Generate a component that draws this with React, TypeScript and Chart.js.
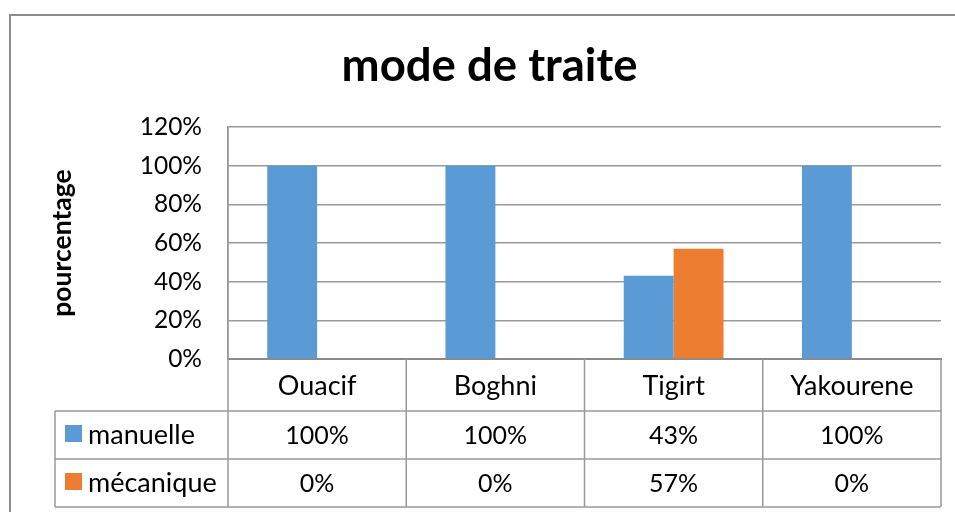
import React, { useEffect, useRef } from "react";
import { Chart, registerables } from "chart.js";

Chart.register(...registerables);

const TITLE = "mode de traite";
const Y_TITLE = "pourcentage";
const categories = ["Ouacif", "Boghni", "Tigirt", "Yakourene"];
const seriesNames = ["manuelle", "mécanique"];
const manuelle = [100, 100, 43, 100];
const mecanique = [0, 0, 57, 0];
const yMin = 0;
const yMax = 120;
const yStep = 20;
const seriesColors = ["#5B9BD5", "#ED7D31"];

const FONT = "Lato, 'Open Sans', sans-serif";
const LINE = "#9a9a9a";
const AXIS = "#8a8a8a";

const extrasPlugin = {
  id: "excelExtras",
  afterDraw(chart: any) {
    const { ctx, chartArea } = chart;
    const left = chartArea.left;
    const right = chartArea.right;
    const axisY = chartArea.bottom;
    const n = categories.length;
    const colW = (right - left) / n;
    const headerBottom = axisY + 52;
    const rowH = 48;
    const tableBottom = headerBottom + rowH * 2;
    const tableLeft = 55;
    const values = [manuelle, mecanique];

    ctx.save();
    // outer frame
    ctx.strokeStyle = "#8c8c8c";
    ctx.lineWidth = 2;
    ctx.strokeRect(10, 15, 959, 520);

    // table lines
    ctx.strokeStyle = LINE;
    ctx.lineWidth = 1.5;
    ctx.beginPath();
    for (let r = 0; r < 3; r++) {
      const y = headerBottom + r * rowH;
      ctx.moveTo(tableLeft, y);
      ctx.lineTo(right, y);
    }
    ctx.moveTo(tableLeft, headerBottom);
    ctx.lineTo(tableLeft, tableBottom);
    for (let i = 0; i <= n; i++) {
      const x = left + i * colW;
      ctx.moveTo(x, i === 0 ? chartArea.top : axisY);
      ctx.lineTo(x, tableBottom);
    }
    ctx.stroke();

    // table values and legend keys
    ctx.fillStyle = "#000";
    ctx.textBaseline = "alphabetic";
    for (let s = 0; s < values.length; s++) {
      const rowTop = headerBottom + s * rowH;
      const baseY = rowTop + 33;
      ctx.fillStyle = seriesColors[s];
      ctx.fillRect(65, rowTop + 14, 17, 17);
      ctx.fillStyle = "#000";
      ctx.font = `27px ${FONT}`;
      ctx.textAlign = "left";
      ctx.fillText(seriesNames[s], 88, baseY);
      ctx.font = `25px ${FONT}`;
      ctx.textAlign = "center";
      for (let i = 0; i < n; i++) {
        ctx.fillText(`${Math.round(values[s][i])}%`, left + (i + 0.5) * colW, baseY);
      }
    }

    // title
    ctx.font = `bold 45.5px ${FONT}`;
    ctx.textAlign = "center";
    ctx.fillText(TITLE, 489.5, 81);

    // y axis title
    ctx.translate(71, (chartArea.top + axisY) / 2);
    ctx.rotate(-Math.PI / 2);
    ctx.font = `bold 26.5px ${FONT}`;
    ctx.textAlign = "center";
    ctx.fillText(Y_TITLE, 0, 0);
    ctx.restore();
  },
};

export default function App() {
  const ref = useRef<HTMLCanvasElement | null>(null);

  useEffect(() => {
    if (!ref.current) return;
    Chart.defaults.font.family = FONT;
    const chart = new Chart(ref.current, {
      type: "bar",
      data: {
        labels: categories,
        datasets: [
          { label: seriesNames[0], data: manuelle, backgroundColor: seriesColors[0], borderWidth: 0 },
          { label: seriesNames[1], data: mecanique, backgroundColor: seriesColors[1], borderWidth: 0 },
        ],
      },
      options: {
        responsive: false,
        animation: false,
        events: [],
        layout: { padding: { top: 127, right: 14, left: 0, bottom: 0 } },
        datasets: { bar: { categoryPercentage: 0.56, barPercentage: 1.0 } },
        plugins: {
          legend: { display: false },
          title: { display: false },
          tooltip: { enabled: false },
        },
        scales: {
          x: {
            grid: { display: false, drawTicks: false },
            border: { display: true, color: AXIS, width: 2 },
            ticks: { color: "#000", font: { size: 27 }, padding: 11 },
            afterFit: (scale: any) => {
              scale.height = 153;
            },
          },
          y: {
            min: yMin,
            max: yMax,
            ticks: {
              stepSize: yStep,
              color: "#000",
              font: { size: 24.5 },
              padding: 26,
              callback: (v: any) => `${v}%`,
            },
            grid: { color: LINE, lineWidth: 1.5, drawTicks: false },
            border: { display: true, color: LINE, width: 1.5 },
            afterFit: (scale: any) => {
              scale.width = 228;
            },
          },
        },
      },
      plugins: [extrasPlugin],
    });
    return () => chart.destroy();
  }, []);

  return (
    <div style={{ position: "fixed", left: 0, top: 0, width: 955, height: 512, background: "#fff" }}>
      <canvas ref={ref} width={955} height={512} style={{ display: "block", width: 955, height: 512 }} />
    </div>
  );
}
